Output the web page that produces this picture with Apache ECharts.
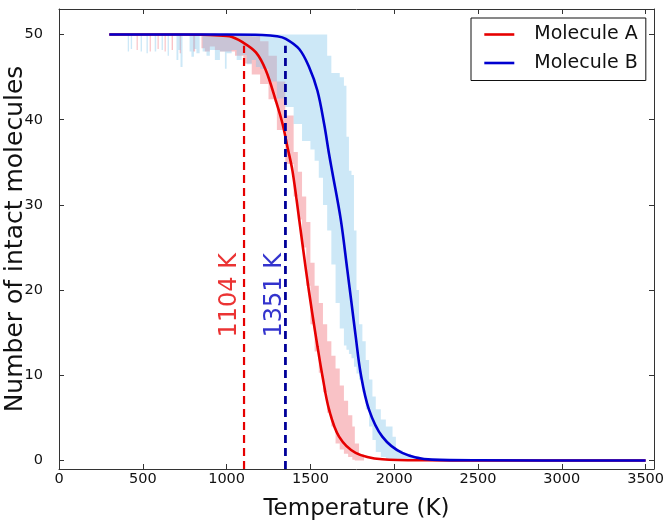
<!DOCTYPE html>
<html>
<head>
<meta charset="utf-8">
<script src="https://cdn.jsdelivr.net/npm/echarts@6/dist/echarts.min.js"></script>
<style>
  html, body { margin: 0; padding: 0; background: #fff; }
  #chart { width: 666px; height: 526px; }
</style>
</head>
<body>
<div id="chart"></div>
<script>
// fitted curves (temperature K -> intact molecules)
const curveAT = [300, 700, 900, 1017, 1095, 1175, 1234, 1294, 1334, 1363, 1393, 1433, 1473, 1510, 1542, 1572, 1611, 1671, 1770, 1929, 2200, 2500, 3500]
const curveAN = [50, 50, 49.95, 49.8, 49.1, 47.9, 45.8, 42.2, 39.5, 36.8, 34.0, 28.3, 22.4, 17.4, 13.4, 9.9, 6.0, 2.8, 0.9, 0.15, 0.02, 0, 0]

const curveBT = [300, 1000, 1214, 1300, 1353, 1433, 1492, 1542, 1582, 1611, 1631, 1681, 1720, 1747, 1770, 1800, 1849, 1929, 2048, 2226, 2500, 3500]
const curveBN = [50, 50, 49.95, 49.8, 49.5, 48.3, 46.2, 43.4, 39.5, 36.0, 33.8, 28.3, 22.4, 18.2, 14.6, 10.2, 6.0, 2.8, 0.9, 0.1, 0.02, 0]

// min / max of the raw runs (shaded bands)
const bandAT = [300, 463, 470, 541, 548, 588, 595, 630, 637, 672, 680, 720, 728, 800, 812, 850, 870, 900, 930, 960,
  1000, 1050, 1100, 1150, 1200, 1250, 1300, 1350, 1400, 1425, 1450, 1475, 1500, 1525, 1550, 1575, 1600, 1625, 1650,
  1675, 1700, 1725, 1750, 1765, 1790, 1820, 3500]
const bandALow = [50, 48.2, 50, 48.0, 50, 48.3, 50, 48.0, 50, 48.2, 50, 47.8, 50, 48.0, 50, 48.4, 48.0, 48.6, 48.2, 48.0,
  48.0, 47.5, 46.6, 45.3, 44.2, 42.4, 38.8, 34.8, 31.0, 28.3, 25.0, 20.5, 16.0, 12.8, 10.3, 8.0, 5.6, 4.0, 2.0,
  1.3, 0.8, 0.4, 0.1, 0, 0, 0, 0]
const bandAHigh = [50, 50, 50, 50, 50, 50, 50, 50, 50, 50, 50, 50, 50, 50, 50, 50, 50, 50, 50, 50,
  50, 50, 50, 49.8, 49.2, 47.5, 44.5, 40.5, 36.2, 33.9, 31.0, 28.0, 23.2, 20.5, 18.5, 16.0, 14.0, 12.3, 10.8,
  8.8, 7.0, 5.3, 4.0, 2.0, 0.7, 0, 0]

const bandBT = [300, 410, 418, 428, 436, 487, 495, 522, 530, 571, 580, 612, 620, 648, 656, 701, 712, 725, 737, 779,
  790, 805, 820, 839, 857, 880, 900, 930, 960, 990, 1000, 1030, 1060, 1090, 1120, 1150, 1175, 1200, 1250, 1300,
  1350, 1400, 1450, 1500, 1525, 1550, 1575, 1600, 1625, 1650, 1675, 1700, 1715, 1730, 1745, 1760, 1775, 1790, 1810,
  1830, 1850, 1870, 1890, 1920, 1950, 1990, 2010, 2050, 2100, 2150, 2200, 3500]
const bandBLow = [50, 48.0, 50, 48.3, 50, 48.0, 50, 47.8, 50, 48.0, 50, 48.2, 50, 47.5, 50, 47.0, 48.2, 46.2, 50, 48.0,
  47.4, 48.3, 47.8, 50, 48.0, 47.5, 48.2, 47.0, 48.0, 46.0, 47.8, 48.2, 47.0, 47.6, 46.5, 47.0, 46.2, 46.0, 44.5, 42.5,
  41.5, 39.5, 37.5, 36.5, 35.2, 33.2, 30.0, 27.0, 23.0, 18.5, 15.5, 13.5, 13.0, 12.5, 12.0, 11.0, 10.2, 9.5, 8.0,
  6.0, 4.0, 2.4, 1.0, 0.4, 0, 0, 0, 0, 0, 0, 0, 0]
const bandBHigh = [50, 50, 50, 50, 50, 50, 50, 50, 50, 50, 50, 50, 50, 50, 50, 50, 50, 50, 50, 50,
  50, 50, 50, 50, 50, 50, 50, 50, 50, 50, 50, 50, 50, 50, 50, 50, 50, 50, 50, 50,
  50, 50, 50, 50, 50, 50, 50, 47.5, 45.5, 45.5, 45.0, 44.0, 38.0, 34.0, 33.5, 27.0, 20.0, 16.0, 14.0,
  11.8, 9.5, 7.5, 6.0, 4.8, 4.0, 2.8, 1.2, 0.8, 0.5, 0.2, 0, 0]

// marked temperatures and where their dashed lines stop
const markerT = [1104, 1351]
const markerTop = [48.7, 48.7]

const seriesNames = ['Molecule A', 'Molecule B']

const FONT = 'DejaVu Sans'
const RED = '#e60000'
const BLUE = '#0000d0'

const zip = (xs, ys) => xs.map((x, i) => [x, ys[i]])

// filled min-max band, drawn as one stepped polygon through the axes
function bandSeries(key, xs, low, high, color) {
  return {
    name: key, type: 'custom', silent: true, z: 1, clip: true,
    data: [[xs[0], low[0]]],
    renderItem: (params, api) => {
      const top = []
      const bottom = []
      for (let i = 0; i < xs.length; i++) {
        if (i > 0) {
          top.push(api.coord([xs[i], high[i - 1]]))
          bottom.push(api.coord([xs[i], low[i - 1]]))
        }
        top.push(api.coord([xs[i], high[i]]))
        bottom.push(api.coord([xs[i], low[i]]))
      }
      return {
        type: 'polygon',
        shape: { points: top.concat(bottom.reverse()) },
        style: { fill: color }
      }
    }
  }
}

function dashSeries(i, color, width) {
  return {
    name: 'mark-' + i, type: 'line', symbol: 'none', silent: true, z: 4,
    lineStyle: { color, width, type: [8, 5] },
    data: [[markerT[i], -1], [markerT[i], markerTop[i]]]
  }
}

function labelSeries(i, color, dx) {
  return {
    name: 'label-' + i, type: 'scatter', symbolSize: 0, silent: true, z: 5,
    data: [[markerT[i] + dx, 19.4]],
    label: {
      show: true, position: 'inside', rotate: 90, formatter: markerT[i] + ' K',
      color, fontSize: 24, fontFamily: FONT, align: 'center', verticalAlign: 'middle'
    }
  }
}

const axisCommon = {
  axisLine: { show: true, onZero: false, lineStyle: { color: '#333', width: 1 } },
  axisTick: { show: true, inside: true, length: 5, lineStyle: { color: '#333' } },
  splitLine: { show: false }
}

const chart = echarts.init(document.getElementById('chart'), null, { renderer: 'canvas' })
chart.setOption({
  animation: false,
  backgroundColor: '#fff',
  grid: { left: 59, right: 12, top: 9, bottom: 57, containLabel: false, outerBoundsMode: 'none' },
  legend: {
    data: seriesNames,
    orient: 'vertical',
    left: 471, top: 18,
    padding: [7, 8, 8, 12],
    itemWidth: 30, itemHeight: 20, itemGap: 9.5,
    borderColor: '#111', borderWidth: 1, borderRadius: 0,
    backgroundColor: '#fff',
    itemStyle: { opacity: 0 },
    lineStyle: { width: 2.6 },
    textStyle: { fontSize: 19, fontFamily: FONT, color: '#111', padding: [0, 0, 0, 15] }
  },
  xAxis: [
    Object.assign({}, axisCommon, {
      type: 'value', min: 0, max: 3550, interval: 500, position: 'bottom',
      name: 'Temperature (K)', nameLocation: 'middle', nameGap: 29,
      nameTextStyle: { fontSize: 23, fontFamily: FONT, color: '#111' },
      axisLabel: {
        fontSize: 14.5, fontFamily: FONT, color: '#111', margin: 3,
        showMaxLabel: false, formatter: v => String(v)
      }
    }),
    Object.assign({}, axisCommon, {
      type: 'value', min: 0, max: 3550, interval: 500, position: 'top',
      axisLabel: { show: false }
    })
  ],
  yAxis: [
    Object.assign({}, axisCommon, {
      type: 'value', min: -1, max: 53, splitNumber: 5, position: 'left',
      name: 'Number of intact molecules', nameLocation: 'middle', nameGap: 31,
      nameMoveOverlap: false,
      nameTextStyle: { fontSize: 25, fontFamily: FONT, color: '#111' },
      axisLabel: {
        fontSize: 14.5, fontFamily: FONT, color: '#111', margin: 16,
        showMinLabel: false, showMaxLabel: false, formatter: v => String(v)
      }
    }),
    Object.assign({}, axisCommon, {
      type: 'value', min: -1, max: 53, splitNumber: 5, position: 'right',
      axisLabel: { show: false }
    })
  ],
  series: [
    bandSeries('bandA', bandAT, bandALow, bandAHigh, 'rgba(240,110,120,0.42)'),
    bandSeries('bandB', bandBT, bandBLow, bandBHigh, 'rgba(135,200,235,0.42)'),
    {
      name: seriesNames[0], type: 'line', symbol: 'none', smooth: 0.35, z: 3,
      lineStyle: { color: RED, width: 2.6 }, itemStyle: { color: RED },
      data: zip(curveAT, curveAN)
    },
    {
      name: seriesNames[1], type: 'line', symbol: 'none', smooth: 0.35, z: 3,
      lineStyle: { color: BLUE, width: 2.6 }, itemStyle: { color: BLUE },
      data: zip(curveBT, curveBN)
    },
    dashSeries(0, RED, 2.2),
    dashSeries(1, '#000099', 2.8),
    labelSeries(0, RED, -86),
    labelSeries(1, '#0000c0', -61)
  ]
})
</script>
</body>
</html>
